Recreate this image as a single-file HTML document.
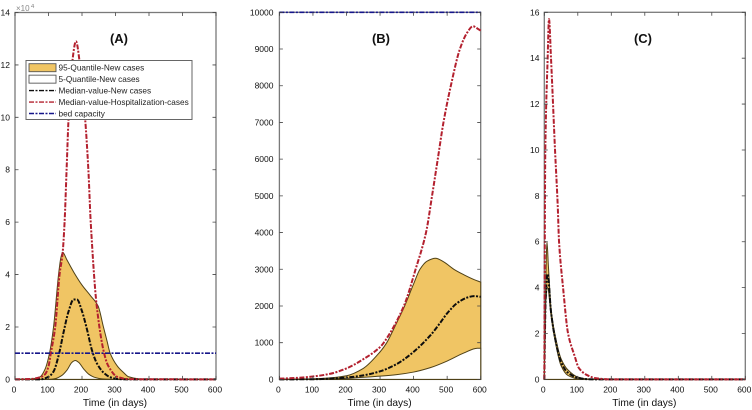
<!DOCTYPE html>
<html lang="en">
<head>
<meta charset="utf-8">
<title>Quantile charts of new cases and hospitalization cases</title>
<style>
html,body{margin:0;padding:0;background:#fff;}
body{width:752px;height:410px;overflow:hidden;}
svg{display:block;font-family:"Liberation Sans",sans-serif;filter:blur(0.35px);}
</style>
</head>
<body>
<svg id="fig" width="752" height="410" viewBox="0 0 752 410" xmlns="http://www.w3.org/2000/svg"></svg>
<script>
// Shared axis values
const xTickLabels = [0, 100, 200, 300, 400, 500, 600];
const aYTickLabels = [0, 2, 4, 6, 8, 10, 12, 14];
const bYTickLabels = [0, 1000, 2000, 3000, 4000, 5000, 6000, 7000, 8000, 9000, 10000];
const cYTickLabels = [0, 2, 4, 6, 8, 10, 12, 14, 16];

// Panel A (values in units of 10^4)
const aUpperDays = [0, 50, 75, 90, 103, 115, 130, 137, 142, 155, 175, 200, 225, 248, 264, 275, 284, 306, 325, 339, 370, 400, 600];
const aUpperValues = [0, 0.02, 0.1, 0.4, 1.0, 2.0, 4.0, 4.65, 4.85, 4.56, 4.1, 3.6, 3.2, 2.8, 2.0, 1.45, 1.0, 0.5, 0.25, 0.1, 0.02, 0, 0];
const aLowerDays = [0, 100, 120, 140, 155, 170, 180, 190, 205, 220, 240, 260, 300, 600];
const aLowerValues = [0, 0, 0.03, 0.15, 0.35, 0.65, 0.72, 0.65, 0.4, 0.2, 0.07, 0.02, 0, 0];
const aMedianDays = [0, 75, 100, 115, 130, 145, 160, 175, 185, 200, 215, 230, 245, 265, 285, 310, 350, 600];
const aMedianValues = [0, 0, 0.1, 0.3, 0.9, 1.8, 2.6, 3.05, 3.05, 2.6, 1.9, 1.1, 0.6, 0.25, 0.08, 0.01, 0, 0];
const aHospDays = [0, 50, 75, 90, 100, 107, 120, 133, 142, 148, 154, 160, 170, 182, 194, 209, 219, 226, 244, 266, 279, 305, 340, 600];
const aHospValues = [0, 0.02, 0.08, 0.2, 0.5, 1.0, 2.0, 4.0, 4.8, 6.0, 8.0, 10.0, 12.0, 12.9, 12.0, 10.0, 8.0, 6.0, 2.8, 1.0, 0.5, 0.1, 0.01, 0];
const aBedDays = [0, 600];
const aBedValues = [1, 1];

// Panel B
const bUpperDays = [0, 100, 150, 200, 250, 300, 320, 350, 371, 400, 419, 440, 465, 490, 520, 550, 580, 600];
const bUpperValues = [0, 15, 40, 100, 300, 750, 1000, 1550, 1950, 2600, 3000, 3220, 3300, 3200, 3000, 2850, 2720, 2650];
const bLowerDays = [0, 100, 200, 300, 350, 400, 450, 500, 550, 590, 600];
const bLowerValues = [0, 5, 30, 90, 130, 200, 320, 500, 720, 850, 850];
const bMedianDays = [0, 100, 150, 200, 250, 300, 350, 400, 450, 480, 500, 530, 560, 580, 600];
const bMedianValues = [0, 5, 20, 50, 110, 220, 420, 750, 1200, 1550, 1800, 2080, 2230, 2270, 2250];
const bHospDays = [0, 50, 100, 150, 200, 250, 300, 315, 371, 406, 437, 455, 472, 489, 511, 538, 560, 577, 590, 600];
const bHospValues = [20, 40, 80, 150, 300, 550, 880, 1050, 2000, 3000, 4000, 5000, 6000, 7000, 8000, 9000, 9450, 9620, 9560, 9500];
const bBedDays = [0, 600];
const bBedValues = [10000, 10000];

// Panel C
const cUpperDays = [0, 3, 8, 12, 20, 30, 50, 70, 100, 130, 160, 600];
const cUpperValues = [0, 3, 6, 5, 3.1, 2.1, 0.9, 0.42, 0.1, 0.02, 0, 0];
const cLowerDays = [0, 5, 10, 20, 30, 50, 70, 100, 130, 600];
const cLowerValues = [0, 3.5, 4, 2.8, 1.85, 0.6, 0.18, 0.03, 0, 0];
const cMedianDays = [0, 4, 10, 20, 30, 50, 70, 100, 130, 160, 600];
const cMedianValues = [0, 3.5, 4.6, 2.95, 1.97, 0.75, 0.3, 0.07, 0.01, 0, 0];
const cHospDays = [0, 3, 10, 14, 20, 32, 40, 44, 56, 71, 91, 103, 126, 155, 200, 600];
const cHospValues = [0, 10, 14, 15.7, 14, 10, 7.6, 6, 4, 2, 1, 0.5, 0.2, 0.05, 0, 0];

// Legend
const legendLabels = ["95-Quantile-New cases", "5-Quantile-New cases", "Median-value-New cases", "Median-value-Hospitalization-cases", "bed capacity"];

const NS = "http://www.w3.org/2000/svg";
const fig = document.getElementById("fig");
const FILL = "#f0c564", EDGE = "#4f4116", BLACK = "#0d0d0d", RED = "#b3202e", NAVY = "#16168a";
const DASH = "5 1.5 2 1.5";

function make(parent, tag, attrs, text) {
  const n = document.createElementNS(NS, tag);
  for (const k in attrs) n.setAttribute(k, attrs[k]);
  if (text !== undefined) n.textContent = text;
  parent.appendChild(n);
  return n;
}

// Monotone cubic path through the data points, passed through the axis functions.
function curve(days, vals, sx, sy) {
  const X = days.map(sx), Y = vals.map(sy), n = X.length;
  if (n < 3) return "M" + X[0] + " " + Y[0] + "L" + X[n - 1] + " " + Y[n - 1];
  const s = [], m = [];
  for (let i = 0; i < n - 1; i++) s.push((Y[i + 1] - Y[i]) / (X[i + 1] - X[i]));
  m.push(s[0]);
  for (let i = 1; i < n - 1; i++) m.push(s[i - 1] * s[i] <= 0 ? 0 : 2 * s[i - 1] * s[i] / (s[i - 1] + s[i]));
  m.push(s[n - 2]);
  let d = "M" + X[0].toFixed(2) + " " + Y[0].toFixed(2);
  for (let i = 0; i < n - 1; i++) {
    const h = (X[i + 1] - X[i]) / 3;
    d += "C" + (X[i] + h).toFixed(2) + " " + (Y[i] + m[i] * h).toFixed(2) + " " + (X[i + 1] - h).toFixed(2) + " " + (Y[i + 1] - m[i + 1] * h).toFixed(2) + " " + X[i + 1].toFixed(2) + " " + Y[i + 1].toFixed(2);
  }
  return d;
}

function drawPanel(p) {
  const g = make(fig, "g", {});
  
  
  const sx = d => p.left + (d - 0) / 600 * (p.right - p.left);
  const sy = v => p.bottom - v / p.yMax * (p.bottom - p.top);

  const frame = make(g, "rect", { x: p.left, y: p.top, width: p.right - p.left, height: p.bottom - p.top, fill: "none", stroke: "#7a7a7a", "stroke-width": 1.3 });
  
  
  const bottomLine = make(g, "line", { x1: p.left, x2: p.right, y1: p.bottom, y2: p.bottom, stroke: "#333", "stroke-width": 1 });
  
  

  const clipId = "clip-" + p.id;
  const defs = make(g, "defs", {});
  const clip = make(defs, "clipPath", { id: clipId });
  make(clip, "rect", { x: p.left - 2, y: p.top - 2, width: p.right - p.left + 3, height: p.bottom - p.top + 4 });

  const plot = make(g, "g", { "clip-path": "url(#" + clipId + ")" });
  
  

  const base = " L" + sx(600) + " " + sy(0) + " L" + sx(0) + " " + sy(0) + "Z";
  const upper = make(plot, "path", { d: curve(p.upper[0], p.upper[1], sx, sy) + base, fill: FILL, stroke: EDGE, "stroke-width": 1 });
  
  
  const lower = make(plot, "path", { d: curve(p.lower[0], p.lower[1], sx, sy) + base, fill: "#ffffff", stroke: EDGE, "stroke-width": 1 });
  
  
  const median = make(plot, "path", { d: curve(p.median[0], p.median[1], sx, sy), fill: "none", stroke: BLACK, "stroke-width": 2, "stroke-dasharray": DASH });
  
  
  const hosp = make(plot, "path", { d: curve(p.hosp[0], p.hosp[1], sx, sy), fill: "none", stroke: RED, "stroke-width": 2, "stroke-dasharray": DASH });
  
  
  if (p.bed) {
    const bed = make(plot, "path", { d: curve(p.bed[0], p.bed[1], sx, sy), fill: "none", stroke: NAVY, "stroke-width": 1.7, "stroke-dasharray": DASH });
    
    
  }

  xTickLabels.forEach(t => {
    const x = sx(t);
    const tick = make(g, "path", { d: "M" + x + " " + p.bottom + "v-3.5M" + x + " " + p.top + "v3.5", stroke: "#444", "stroke-width": 0.8, fill: "none" });
    
    
    const lab = make(g, "text", { x: x - 1, y: 392.5, "text-anchor": "middle", "font-size": 8.5, fill: "#111" }, String(t));
    
    
  });
  p.yTicks.forEach(t => {
    const y = sy(t);
    const tick = make(g, "path", { d: "M" + p.left + " " + y + "h3.5M" + p.right + " " + y + "h-3.5", stroke: "#444", "stroke-width": 0.8, fill: "none" });
    
    
    const lab = make(g, "text", { x: p.labelX, y: y + 3, "text-anchor": "end", "font-size": 8.5, fill: "#111" }, String(t));
    
    
  });

  const xTitle = make(g, "text", { x: (p.left + p.right) / 2 - 0.5, y: 406, "text-anchor": "middle", "font-size": 10.2, fill: "#111" }, "Time (in days)");
  
  
  const title = make(g, "text", { x: p.titleX, y: 43, "text-anchor": "middle", "font-size": 13, "font-weight": "bold", fill: "#111" }, p.title);
  
  
}

drawPanel({ id: "a", title: "(A)", titleX: 119, left: 15, right: 216, top: 12.5, bottom: 379.4, yMax: 14, yTicks: aYTickLabels, labelX: 10,
  upper: [aUpperDays, aUpperValues], lower: [aLowerDays, aLowerValues], median: [aMedianDays, aMedianValues], hosp: [aHospDays, aHospValues], bed: [aBedDays, aBedValues] });
drawPanel({ id: "b", title: "(B)", titleX: 381, left: 279.4, right: 480.7, top: 12.3, bottom: 379.4, yMax: 10000, yTicks: bYTickLabels, labelX: 273.5,
  upper: [bUpperDays, bUpperValues], lower: [bLowerDays, bLowerValues], median: [bMedianDays, bMedianValues], hosp: [bHospDays, bHospValues], bed: [bBedDays, bBedValues] });
drawPanel({ id: "c", title: "(C)", titleX: 643, left: 544.3, right: 745.3, top: 12.3, bottom: 379.4, yMax: 16, yTicks: cYTickLabels, labelX: 539.5,
  upper: [cUpperDays, cUpperValues], lower: [cLowerDays, cLowerValues], median: [cMedianDays, cMedianValues], hosp: [cHospDays, cHospValues], bed: null });

// Axis exponent for panel A
const expo = make(fig, "text", { x: 16, y: 11, "font-size": 8, fill: "#888" }, "×10");


const expoPow = make(fig, "text", { x: 31, y: 8, "font-size": 6, fill: "#888" }, "4");



// Legend
const legend = make(fig, "g", {});


const legendBox = make(legend, "rect", { x: 26, y: 60.5, width: 166, height: 59, fill: "#fff", stroke: "#666", "stroke-width": 1 });


const legendRowY = i => 67.7 + i * 11.45;
legendLabels.forEach((label, i) => {
  const y = legendRowY(i);
  const entry = make(legend, "g", {});
  
  
  if (i < 2) {
    make(entry, "rect", { x: 29, y: y - 4, width: 27, height: 8, fill: i === 0 ? FILL : "#fff", stroke: "#555", "stroke-width": 0.9 });
  } else {
    make(entry, "line", { x1: 29, x2: 56, y1: y, y2: y, stroke: [BLACK, RED, NAVY][i - 2], "stroke-width": 1.4, "stroke-dasharray": DASH });
  }
  make(entry, "text", { x: 58.5, y: y + 2.8, "font-size": 8.25, fill: "#222" }, label);
});
</script>
</body>
</html>
